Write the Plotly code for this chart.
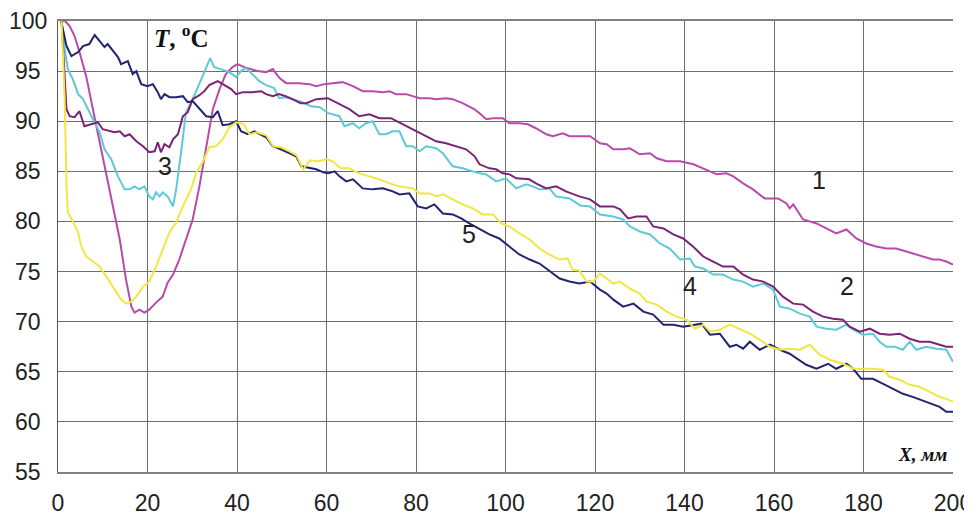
import plotly.graph_objects as go

# Temperature profiles T(X): (X, mm ; T, °C)
CURVE_1 = [(0.5,100),(1.6,100),(2.6,99.5),(3.7,98.5),(4.8,96.9),(6.3,94.5),(7.8,91.2),(9.3,87.9),(10.8,84.5),(12.3,81.5),(13.8,78.2),(15.2,74.2),(16.4,71.5),(17.1,70.9),(18.2,71.2),(19.3,70.9),(20.4,71.2),(21.9,71.9),(23.4,72.5),(24.5,73.9),(25.7,74.7),(27.1,76.2),(28.6,78.2),(30.1,80.2),(31.6,83.5),(33.1,87.2),(34.6,91.2),(36.1,93.2),(37.5,94.7),(39,95.4),(40.1,95.7),(41.6,95.4),(43.1,95.2),(44.6,95),(46.5,94.9),(48,95.2),(49.5,94.3),(51,93.8),(53.9,93.8),(56.2,93.7),(57.7,93.5),(59.5,93.7),(61.4,93.8),(63.6,93.9),(65.9,93.5),(68.1,93),(70.3,93),(72.6,92.9),(74.1,93),(75.5,92.7),(77.8,92.7),(79.3,92.5),(80.8,92.3),(83,92.3),(84.5,92.2),(86.7,92.3),(88.2,92.2),(90.4,91.8),(91.9,91.5),(93,91.2),(94.2,90.8),(95.7,90.2),(97.2,90.3),(99.4,90.3),(100.9,89.8),(103.1,89.8),(105,89.7),(106.8,89.3),(109.1,88.7),(110.6,88.5),(112.8,88.8),(114.3,88.5),(116.5,88.5),(118.9,88.5),(121.1,87.8),(122.6,87.7),(124.1,87.2),(126.3,87.2),(127.8,87.3),(130,86.7),(132.3,86.8),(133.8,86.3),(136,86),(139,86),(142,85.7),(144.2,85.3),(147.2,84.7),(149.4,84.8),(150.9,84.5),(153.1,83.8),(155.3,83.2),(157.9,82.3),(160.9,82.3),(162.8,81.8),(163.5,81.3),(164.3,81.7),(166.5,80.2),(169.5,79.8),(171.7,79.3),(173.9,78.8),(176.2,79.2),(178.4,78.3),(180.6,77.8),(182.8,77.5),(185.1,77.3),(187.3,77.3),(189.6,77),(191,76.8),(193.3,76.5),(195.5,76.2),(197,76.2),(198.5,76),(200,75.7)]

CURVE_2 = [(0.8,100),(1.9,91.2),(2.6,90.5),(3.7,90.4),(4.8,91),(5.9,89.5),(7.4,89.7),(8.9,89.9),(10,89.2),(11.5,89),(12.6,88.9),(13.8,89),(14.9,88.5),(16,88.7),(17.5,88),(19,87.5),(20.4,86.9),(21.6,87),(22.3,87.9),(23,86.9),(23.8,87.7),(24.9,87.4),(25.7,88.2),(26.8,88.7),(27.9,90.5),(29,90.9),(30.1,92.2),(31.6,92.6),(32.7,93),(33.8,93.6),(34.9,93.8),(35.7,94),(37.2,93.6),(38.7,93.2),(39.8,92.7),(41.3,92.9),(43.5,92.9),(45.4,93),(46.5,92.7),(48,92.5),(49.4,92.7),(50.9,92.5),(52.4,92.2),(54.2,91.8),(55.5,91.8),(57.7,92.2),(60.3,92.3),(62.9,91.7),(65.1,91.2),(67.3,90.5),(69.6,90.7),(71.8,90.3),(74.4,90.3),(77,89.7),(79.3,89.2),(82.3,88.5),(84.5,88),(86.7,87.8),(89,87.5),(91.2,87.2),(93.1,86.5),(94.2,85.7),(96.4,85.3),(97.9,85.2),(99.4,84.8),(100.9,84.7),(102.4,84.3),(105.3,84.2),(106.8,83.8),(109.1,83.3),(111.3,83.5),(113.5,83),(116.5,82.5),(118.9,82.2),(121.1,81.5),(124.1,81.5),(125.6,81.2),(127.4,80.3),(129.3,80.5),(131.5,80.5),(133,79.5),(135.3,79.3),(137.5,78.7),(139.7,78.3),(141.9,77.5),(144.2,76.5),(146.4,76),(148.6,75.5),(150.9,75.5),(153.1,74.7),(155.3,74.2),(157.6,74),(159.8,73.5),(162,72.5),(164.3,71.8),(166.5,71.7),(168.7,71),(171,70.5),(173.2,70.3),(175.4,70.2),(176.9,69.5),(179.2,69),(181.4,69.3),(183.6,68.8),(185.8,68.7),(188.1,68.8),(190.3,68.3),(192.5,68),(194.8,68),(197,67.7),(198.5,67.5),(200,67.5)]

CURVE_3 = [(0.8,100),(1.5,97.2),(2.2,95.2),(3.3,94.2),(4.5,92.7),(5.6,92.2),(6.7,91.2),(8.2,89.9),(9.3,88.9),(10.4,87.2),(11.9,86.2),(13.4,84.5),(14.9,83.2),(16,83.2),(17.1,83.5),(18.2,83.2),(19.3,83.5),(20.4,82.5),(21.2,82.2),(21.9,82.9),(22.7,82.5),(23.4,82.9),(24.5,82.5),(25.7,81.5),(26.4,83.2),(27.5,86.9),(28.6,90.9),(30.1,92.2),(31.6,93.7),(32.7,94.9),(34,96.3),(34.9,95.4),(36.4,95.2),(38.3,94.9),(39.8,94.4),(40.9,95),(42,95.3),(43.5,94.7),(45,94),(46.5,93.6),(48.3,93.3),(49.4,92.3),(50.6,92.4),(52.4,92.2),(54.6,91.9),(56.5,91.5),(58.5,91.4),(60.4,90.8),(62.9,90.5),(64,89.5),(65.9,89.8),(67.3,89.3),(68.8,89.8),(70.3,90),(71.8,88.7),(73.3,88.7),(74.8,89),(76.3,89),(77.8,87.5),(79.3,87.5),(80.8,87),(82.3,87.5),(84.5,87.3),(86,86.8),(88.2,85.5),(90.4,85.3),(92.7,85),(94.2,84.8),(95.7,84.7),(97.9,84),(100.1,84.3),(102.4,83.3),(104.6,83.7),(106.1,83.5),(107.6,83.2),(109.8,83.3),(111.3,82.5),(114.3,82.3),(116.7,81.6),(118.9,81.5),(121.1,80.7),(124.1,80.5),(126.3,80.2),(127.8,79.5),(130,79),(132.3,78.7),(134.5,77.8),(136.7,77.3),(139,76.2),(141.2,76.3),(142.3,75.5),(144.2,75.3),(146.4,74.7),(148.6,74.7),(150.9,74.2),(153.1,74),(155.3,73.5),(157.6,73.8),(159.8,73.2),(161.3,71.5),(163.5,71.3),(165.8,70.8),(168,70.5),(169.5,69.5),(171.7,69.3),(173.9,69.2),(176.2,69.7),(177.7,69.2),(179.9,68.7),(182.1,68.8),(183.6,68),(185.1,67.5),(187,67.5),(188.8,67.2),(190.3,68),(191.8,67.2),(194,67.5),(196.3,67.3),(198.5,67.2),(200,66)]

CURVE_4 = [(0.8,100),(1.5,92.2),(1.9,83.5),(2.2,80.9),(3.3,80),(4.5,78.9),(5.2,77.5),(6.3,76.5),(7.8,76),(9.3,75.5),(10.8,74.5),(12.6,73.2),(14.1,72.2),(15.2,71.8),(16.4,72),(17.5,72.5),(19,73.5),(20.4,74),(21.9,75.5),(23.4,77.2),(24.9,78.9),(26.4,79.9),(27.9,81.5),(29.7,83.2),(30.9,84.9),(32.3,85.9),(33.8,87.4),(35.3,87.5),(36.8,88.2),(38.3,89.4),(39.8,89.9),(41.5,89.7),(42.8,88.7),(44.4,88.9),(46.5,88.6),(48.1,87.5),(49.8,87.4),(51.7,87),(53.3,86.6),(54.8,85.2),(56.3,86.1),(58.2,86),(60,86.2),(61.4,86),(63.2,85.3),(65.1,85.3),(67.3,84.8),(69.6,84.5),(71.8,84.2),(74.1,83.8),(76.3,83.5),(79.3,83.3),(80.8,82.8),(83,82.8),(84.5,82.5),(86,82.7),(88.2,82.2),(90.4,81.7),(92.7,81.3),(94.9,80.7),(97.2,80.7),(99,79.8),(100.9,79.5),(103.1,78.8),(105.4,78.2),(107.6,77.3),(109.8,76.7),(112.1,76.2),(113.9,76.3),(115,75.2),(116.5,75.1),(118.1,74),(119.6,74),(121.1,74.8),(122.6,74.3),(124.1,73.8),(125.6,74),(127.8,73.3),(130,72.8),(131.5,72),(133.8,71.7),(136,71),(138.2,70.5),(140.5,70.2),(142.3,69.3),(144.2,69.7),(145.7,69),(147.9,69.2),(150.1,69.7),(152.4,69.2),(154.6,68.8),(156.8,68.2),(159.1,67.5),(161.3,67.2),(163.5,67.3),(165.8,67.2),(168,67.7),(170.2,66.7),(172.5,66.2),(175.4,65.8),(177.7,65.3),(179.9,65.3),(182.1,65.3),(184.4,65.2),(185.8,64.5),(188.1,64.2),(190.3,63.7),(192.5,63.5),(194.8,63),(197,62.5),(198.5,62.3),(200,62)]

CURVE_5 = [(0.7,100),(1.9,97.5),(3,96.5),(4.5,96.9),(5.6,97.5),(7,97.7),(8.2,98.6),(9.3,98),(10.4,97.4),(11.1,97.7),(12.3,97),(13.4,96.4),(14.1,95.7),(15.6,96),(16.7,94.7),(17.5,95),(18.6,93.7),(20,93.5),(21.2,93.7),(22.3,92.9),(23,92.2),(23.8,92.7),(24.9,92.4),(26.4,92.4),(27.9,92.5),(29,91.9),(30.1,92),(31.6,91.2),(33.1,90.5),(34.6,90.4),(35.7,91),(36.8,89.6),(38.3,89.7),(39.8,90),(40.9,89),(42.4,88.7),(43.9,89),(46.5,88.4),(48,87.5),(49.8,87.2),(51.7,86.8),(53.2,86.5),(54.4,85.5),(56.2,85.3),(57.7,85.2),(59.3,84.9),(60.4,84.8),(61.8,85),(62.9,84.5),(64.4,84),(65.9,84.2),(68.1,83.3),(70.3,83.2),(72.6,83.3),(74.8,83),(76.3,82.7),(78.5,82.8),(80.4,81.5),(82.3,81.3),(84.1,81.7),(86,80.8),(88.2,80.7),(90.1,80.3),(91.9,79.8),(94.2,79.2),(96.4,78.7),(98.6,78.3),(100.9,77.5),(103.1,76.7),(105.4,76.2),(107.6,75.8),(109.1,75.3),(110.6,74.8),(112.1,74.3),(114.3,74),(116.5,73.8),(118.9,74),(121.1,73.2),(122.6,72.8),(124.1,72.2),(126.3,71.5),(128.6,71.8),(130.8,71),(133,70.7),(135.3,69.7),(137.5,69.7),(139.7,69.5),(141.9,69.7),(143.8,69.8),(145.7,68.7),(147.9,68.8),(150.1,67.5),(151.6,67.7),(153.1,67.3),(154.6,68),(156.8,67.2),(159.1,67.7),(161.3,67.2),(163.5,66.8),(167.2,65.7),(169.5,65.3),(172.1,65.8),(173.9,65.3),(176.2,65.8),(177.7,65.3),(179.5,64.3),(182.1,64.3),(184.4,63.8),(186.6,63.3),(188.8,62.8),(191,62.5),(194,62),(197,61.5),(198.5,61),(200,61)]

CURVE_NAMES = ["1", "2", "3", "4", "5"]
CURVE_COLORS = ["#B84BA9", "#7A2478", "#5FC9D6", "#F2E640", "#222470"]

# curve number labels (X, T) placed on the chart
LABEL_POS = {"1": (170, 84.1), "2": (176.4, 73.6), "3": (23.9, 85.5),
             "4": (141.3, 73.6), "5": (91.9, 78.7)}

X_TICKS = list(range(0, 201, 20))
Y_TICKS = list(range(55, 101, 5))

TICK_FONT = dict(family="Liberation Sans, Arial", size=23, color="#222")

fig = go.Figure()
curves = [CURVE_1, CURVE_2, CURVE_3, CURVE_4, CURVE_5]
# draw in an order so that overlaps look like the reference
for idx in [0, 2, 1, 4, 3]:
    pts = curves[idx]
    fig.add_trace(go.Scatter(
        x=[p[0] for p in pts], y=[p[1] for p in pts],
        mode="lines", name=CURVE_NAMES[idx],
        line=dict(color=CURVE_COLORS[idx], width=2),
        showlegend=False,
    ))

for name, (lx, ly) in LABEL_POS.items():
    fig.add_annotation(x=lx, y=ly, text=name, showarrow=False,
                       font=dict(family="Liberation Sans, Arial", size=25, color="#222"))

# y tick labels are centred (not right-aligned) in the reference
for v in Y_TICKS:
    fig.add_annotation(xref="paper", x=0, xshift=-30, xanchor="center",
                       yref="y", y=v, yanchor="middle", text=str(v),
                       showarrow=False, font=TICK_FONT)

fig.add_annotation(x=21, y=98.5, xanchor="left", yanchor="middle",
                   text="<b><i>T</i>, <sup>o</sup>C</b>", showarrow=False,
                   font=dict(family="Liberation Serif, Times New Roman", size=25, color="#111"))
fig.add_annotation(x=199, y=56.7, xanchor="right", yanchor="middle",
                   text="<b><i>X, мм</i></b>", showarrow=False,
                   font=dict(family="Liberation Serif, Times New Roman", size=19, color="#111"))

fig.update_layout(
    width=972, height=512, autosize=False,
    margin=dict(l=50, r=27, t=13, b=48, autoexpand=False),
    paper_bgcolor="white", plot_bgcolor="white",
    xaxis=dict(range=[0, 200], tickvals=X_TICKS, ticktext=[str(v) for v in X_TICKS],
               automargin=False,
               showgrid=True, gridcolor="#6e6e6e", gridwidth=1, zeroline=False,
               showline=True, linecolor="#808080", linewidth=2, mirror=True,
               ticks="", ticklabelstandoff=9, tickfont=TICK_FONT),
    yaxis=dict(range=[55, 100], tickvals=Y_TICKS, showticklabels=False,
               automargin=False,
               showgrid=True, gridcolor="#6e6e6e", gridwidth=1, zeroline=False,
               showline=True, linecolor="#555555", linewidth=1, mirror=False,
               ticks=""),
)

fig.write_html("out.html")
